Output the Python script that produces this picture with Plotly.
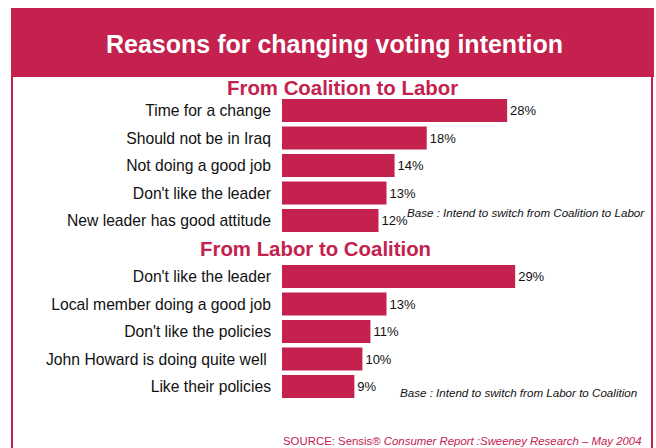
import plotly.graph_objects as go
from plotly.subplots import make_subplots

# Survey data: reasons for switching vote
coal_to_labor_reasons = [
    "Time for a change",
    "Should not be in Iraq",
    "Not doing a good job",
    "Don't like the leader",
    "New leader has good attitude",
]
coal_to_labor_pct = [28, 18, 14, 13, 12]

labor_to_coal_reasons = [
    "Don't like the leader",
    "Local member doing a good job",
    "Don't like the policies",
    "John Howard is doing quite well ",
    "Like their policies",
]
labor_to_coal_pct = [29, 13, 11, 10, 9]

CRIMSON = "#C4214E"
FONT = "Liberation Sans, Arial, sans-serif"
W, H = 656, 448


def px_x(x):
    return x / W


def px_y(y):
    return 1 - y / H


fig = make_subplots(rows=2, cols=1)

for row, (cats, vals) in enumerate(
    [(coal_to_labor_reasons, coal_to_labor_pct), (labor_to_coal_reasons, labor_to_coal_pct)],
    start=1,
):
    fig.add_trace(
        go.Bar(
            x=vals,
            y=cats,
            orientation="h",
            marker=dict(color=CRIMSON, line=dict(width=0)),
            text=[f"{v}%" for v in vals],
            textposition="outside",
            textfont=dict(family=FONT, size=13, color="#111111"),
            cliponaxis=False,
            showlegend=False,
            hoverinfo="skip",
        ),
        row=row,
        col=1,
    )

x_domain = [px_x(282), px_x(282 + 40 * 8.04)]
axis_x = dict(range=[0, 40], domain=x_domain, visible=False, fixedrange=True)
axis_y = dict(
    autorange="reversed",
    showgrid=False, zeroline=False, showline=False, ticks="",
    ticklabelstandoff=10,
    tickfont=dict(family=FONT, size=15.7, color="#111111"),
)
fig.update_layout(
    xaxis=dict(axis_x),
    xaxis2=dict(axis_x),
    yaxis=dict(axis_y, domain=[px_y(234.25), px_y(96.75)]),
    yaxis2=dict(axis_y, domain=[px_y(400.25), px_y(262.75)]),
    bargap=0.16,
    width=W,
    height=H,
    margin=dict(l=0, r=0, t=0, b=0),
    paper_bgcolor="white",
    plot_bgcolor="white",
)

# Frame: filled header band and outline running down the page
fig.add_shape(type="rect", xref="paper", yref="paper",
              x0=px_x(12), x1=px_x(652), y0=px_y(470), y1=px_y(76),
              line=dict(color=CRIMSON, width=2), fillcolor="rgba(0,0,0,0)", layer="below")
fig.add_shape(type="rect", xref="paper", yref="paper",
              x0=px_x(11), x1=px_x(654), y0=px_y(77), y1=px_y(8),
              line=dict(width=0), fillcolor=CRIMSON, layer="below")

annotations = [
    dict(text="<b>Reasons for changing voting intention</b>", x=px_x(334), y=px_y(44),
         font=dict(family=FONT, size=25, color="white")),
    dict(text="<b>From Coalition to Labor</b>", x=px_x(342), y=px_y(88),
         font=dict(family=FONT, size=20.4, color=CRIMSON)),
    dict(text="<b>From Labor to Coalition</b>", x=px_x(315), y=px_y(249),
         font=dict(family=FONT, size=20.4, color=CRIMSON)),
    dict(text="<i>Base : Intend to switch from Coalition to Labor</i>", x=px_x(405), y=px_y(212),
         xanchor="left", font=dict(family=FONT, size=11.6, color="#111111")),
    dict(text="<i>Base : Intend to switch from Labor to Coalition</i>", x=px_x(398), y=px_y(392),
         xanchor="left", font=dict(family=FONT, size=11.6, color="#111111")),
    dict(text="SOURCE: Sensis® <i>Consumer Report :Sweeney Research – May 2004</i>",
         x=px_x(281), y=px_y(441), xanchor="left",
         font=dict(family=FONT, size=11.4, color=CRIMSON)),
]
for a in annotations:
    a.setdefault("xanchor", "center")
    fig.add_annotation(xref="paper", yref="paper", yanchor="middle", showarrow=False, **a)

fig.write_html("out.html")
